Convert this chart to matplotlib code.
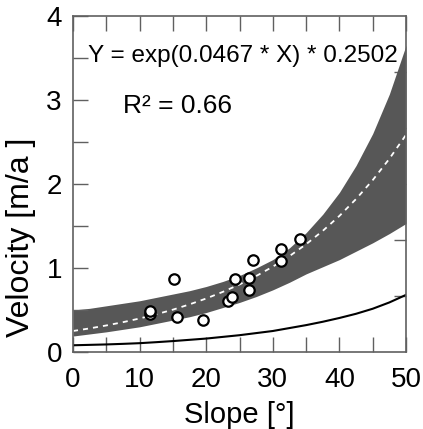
import matplotlib
matplotlib.use("Agg")
import matplotlib.pyplot as plt
import numpy as np

# ---- data ----
x_grid = [0, 2.5, 5, 7.5, 10, 12.5, 15, 17.5, 20, 22.5, 25,
          27.5, 30, 32.5, 35, 37.5, 40, 42.5, 45, 47.5, 50]
fit_vel = [0.250, 0.281, 0.316, 0.355, 0.399, 0.449, 0.504, 0.567, 0.637, 0.716, 0.804,
           0.904, 1.016, 1.141, 1.283, 1.442, 1.620, 1.821, 2.046, 2.300, 2.585]
band_upper = [0.50, 0.52, 0.55, 0.58, 0.61, 0.65, 0.69, 0.73, 0.78, 0.84, 0.91,
              1.00, 1.10, 1.24, 1.42, 1.64, 1.90, 2.22, 2.60, 3.07, 3.65]
band_lower = [0.19, 0.215, 0.24, 0.27, 0.30, 0.34, 0.38, 0.42, 0.47, 0.53, 0.59,
              0.66, 0.74, 0.83, 0.93, 1.015, 1.10, 1.20, 1.30, 1.41, 1.53]
lower_curve = [0.08, 0.085, 0.09, 0.097, 0.105, 0.117, 0.13, 0.145, 0.16, 0.18, 0.20,
               0.225, 0.25, 0.285, 0.32, 0.36, 0.405, 0.455, 0.515, 0.59, 0.68]

slope_pts = [11.6, 11.6, 15.2, 15.6, 19.5, 23.3, 23.8, 24.3, 26.4, 26.4, 27.0, 31.3, 31.3, 34.1]
vel_pts = [0.45, 0.49, 0.87, 0.42, 0.38, 0.61, 0.66, 0.87, 0.88, 0.74, 1.10, 1.23, 1.08, 1.34]

x_ticks = [0, 10, 20, 30, 40, 50]
y_ticks = [0, 1, 2, 3, 4]
equation_text = "Y = exp(0.0467 * X) * 0.2502"
r2_text = "R\u00b2 = 0.66"
x_label = "Slope [\u00b0]"
y_label = "Velocity [m/a ]"

plt.rcParams['font.family'] = ['Liberation Sans', 'DejaVu Sans']

fig = plt.figure(figsize=(4.23, 4.29), dpi=100)
ax = fig.add_axes([73 / 423, 77 / 429, 333 / 423, 336 / 429])

band_col = '#575757'
ax.fill_between(x_grid, band_lower, band_upper, color=band_col, linewidth=0, zorder=1)
ax.plot(x_grid, fit_vel, color='white', lw=1.3, dashes=(2.8, 2.8), zorder=2)
ax.plot(x_grid, lower_curve, color='black', lw=1.5, zorder=2)
ax.plot(slope_pts, vel_pts, 'o', ms=7.5, mfc='white', mec='black', mew=1.6, zorder=3)

ax.set_xlim(0, 50)
ax.set_ylim(0, 4)

frame_col = '#606060'
for s in ax.spines.values():
    s.set_color(frame_col)
    s.set_linewidth(1.2)

ax.set_xticks(x_ticks)
ax.set_yticks(y_ticks)
ax.set_xticks(np.arange(5, 50, 10), minor=True)
ax.set_yticks(np.arange(0.5, 4, 1.0), minor=True)
ax.tick_params(which='both', direction='in', length=11, width=1.0, color=frame_col,
               labelsize=20, top=False, right=False)
ax.tick_params(axis='x', pad=11)
ax.tick_params(axis='y', pad=8)

# top ticks every 5
axt = ax.secondary_xaxis('top')
axt.set_xticks(np.arange(0, 51, 5))
axt.tick_params(direction='in', length=11, width=1.0, color=frame_col, labeltop=False)
axt.spines['top'].set_visible(False)
# right ticks every 2/3
axr = ax.secondary_yaxis('right')
axr.set_yticks([2 / 3, 4 / 3, 2, 8 / 3, 10 / 3])
axr.tick_params(direction='in', length=9, width=1.0, color=frame_col, labelright=False)
axr.spines['right'].set_visible(False)

ax.set_xlabel(x_label, fontsize=21)
ax.set_ylabel(y_label, fontsize=23)
ax.xaxis.set_label_coords(0.5, -0.145)
ax.xaxis.label.set_va('top')
ax.yaxis.set_label_coords(-0.11, 0.34)

ax.text(2.2, 3.45, equation_text, fontsize=17.5, va='baseline', ha='left', zorder=4)
ax.text(7.5, 2.85, r2_text, fontsize=19, va='baseline', ha='left', zorder=4)

fig.savefig('out.png', dpi=100)
